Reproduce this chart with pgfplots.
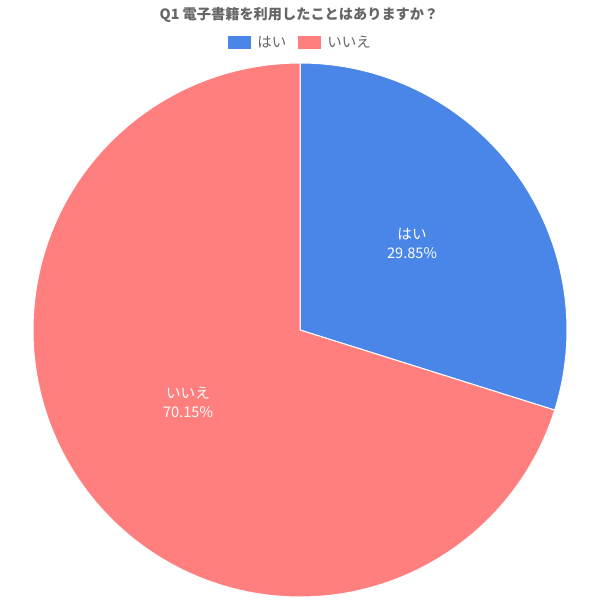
\documentclass[border=0pt]{standalone}
\usepackage{pgfplots}
\pgfplotsset{compat=1.18}
\usepackage{fontspec}
\setmainfont{Noto Sans CJK JP}
\definecolor{cyes}{HTML}{4A86E8}
\definecolor{cno}{HTML}{FF7F7F}
\definecolor{tgray}{HTML}{666666}
\begin{document}
\begin{tikzpicture}
\begin{axis}[
  scale only axis, width=600pt, height=600pt,
  xmin=0, xmax=600, ymin=0, ymax=600,
  hide axis, clip=false,
  legend columns=2,
  legend style={draw=none, fill=none, at={(axis cs:300.5,557)}, anchor=center,
    font=\fontsize{14.5}{17}\selectfont, text=tgray,
    /tikz/every even column/.append style={column sep=10pt}},
  legend image code/.code={\fill[#1, draw=none] (0pt,-6.5pt) rectangle (23pt,6.5pt); \path[draw=none, fill=none] (0pt,0pt) -- (27pt,0pt);},
]
\path (axis cs:0,0) rectangle (axis cs:600,600);
% slice values: はい 29.85, いいえ 70.15 (percent); angle = 3.6*value
\addplot[fill=cyes, draw=white, line width=1pt, domain=-17.46:90, samples=120]
  ({300+267*cos(x)},{270+267*sin(x)}) -- (axis cs:300,270) -- cycle;
\addlegendentry{はい}
\addplot[fill=cno, draw=white, line width=1pt, domain=-270:-17.46, samples=240]
  ({300+267*cos(x)},{270+267*sin(x)}) -- (axis cs:300,270) -- cycle;
\addlegendentry{いいえ}
\node[font=\bfseries\fontsize{14.2}{16}\selectfont, text=tgray] at (axis cs:299,585) {Q1 電子書籍を利用したことはありますか？};
\node[white, align=center, font=\fontsize{14.6}{19}\selectfont] at (axis cs:412,357) {はい\\29.85\%};
\node[white, align=center, font=\fontsize{14.6}{19}\selectfont] at (axis cs:188,198) {いいえ\\70.15\%};
\end{axis}
\end{tikzpicture}
\end{document}
